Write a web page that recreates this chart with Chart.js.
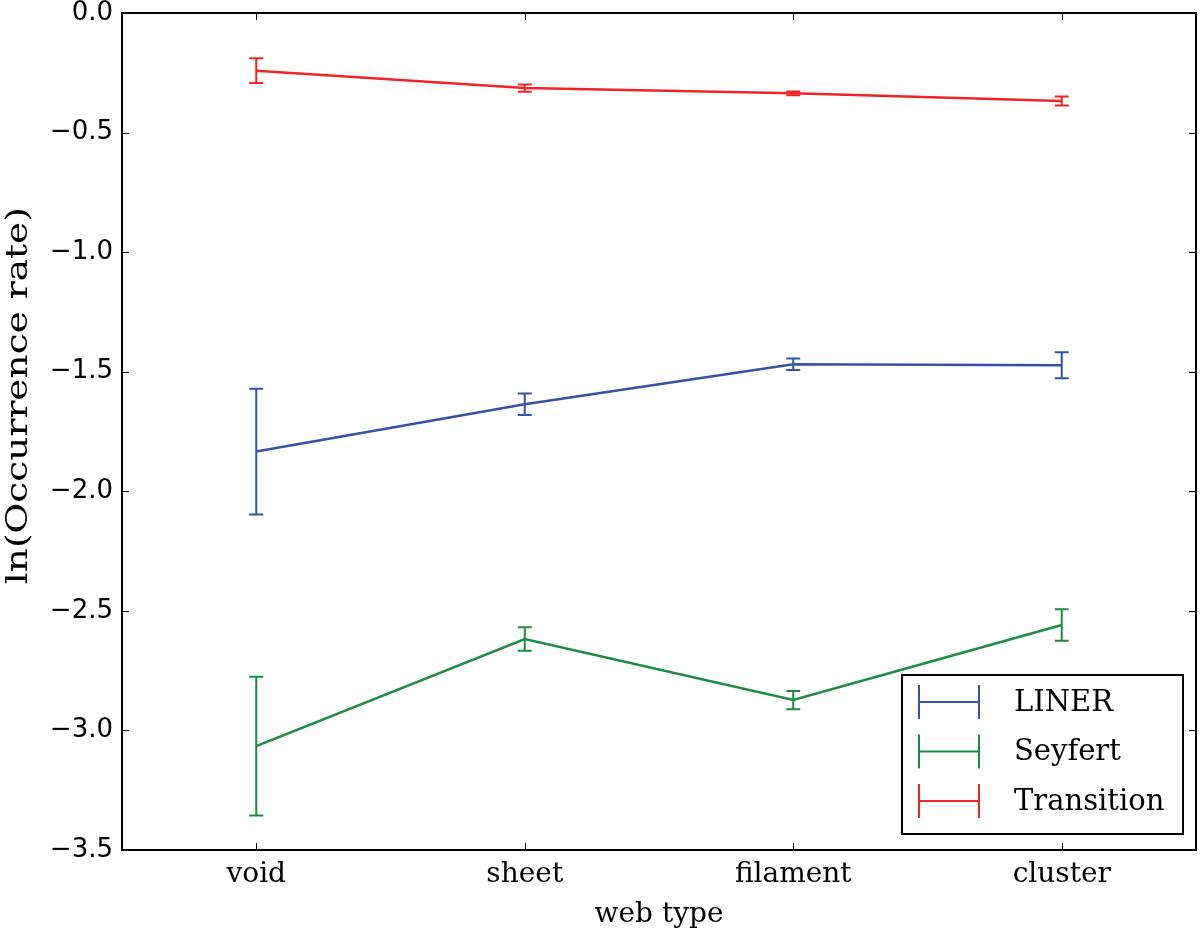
<!DOCTYPE html>
<html>
<head>
<meta charset="utf-8">
<script src="https://cdn.jsdelivr.net/npm/chart.js@4.4.1/dist/chart.umd.min.js"></script>
<style>
  html, body { margin: 0; padding: 0; background: #fff; }
  #wrap { width: 1200px; height: 932px; }
</style>
</head>
<body>
<div id="wrap"><canvas id="chart" width="1200" height="932"></canvas></div>
<script>
// categories on the x axis
const webTypes = ['void', 'sheet', 'filament', 'cluster'];

// ln(occurrence rate) per web type, with symmetric errors
const linerValues = [-1.834, -1.636, -1.469, -1.473];
const linerErrors = [0.263, 0.045, 0.024, 0.054];
const seyfertValues = [-3.066, -2.618, -2.873, -2.559];
const seyfertErrors = [0.290, 0.049, 0.038, 0.066];
const transitionValues = [-0.241, -0.314, -0.336, -0.368];
const transitionErrors = [0.052, 0.015, 0.008, 0.019];

const yTicks = [0, -0.5, -1, -1.5, -2, -2.5, -3, -3.5];
const yTitle = 'ln(Occurrence rate)';

const BLUE = '#3352a8';
const GREEN = '#1c8c44';
const RED = '#f02424';
const serif = '"DejaVu Serif", "Liberation Serif", serif';
const sans = '"DejaVu Sans", "Liberation Sans", sans-serif';

function toPoints(values) {
    return values.map(function (v, i) { return { x: i, y: v }; });
}

// error bars, drawn through the chart scales
const errorBars = {
    id: 'errorBars',
    afterDatasetsDraw(chart) {
        const ctx = chart.ctx;
        const xs = chart.scales.x, ys = chart.scales.y;
        chart.data.datasets.forEach(function (ds) {
            ctx.save();
            ctx.strokeStyle = ds.borderColor;
            ctx.lineWidth = 2;
            ds.data.forEach(function (p, i) {
                const e = ds.errors[i];
                const px = xs.getPixelForValue(p.x);
                const top = ys.getPixelForValue(p.y + e);
                const bot = ys.getPixelForValue(p.y - e);
                ctx.beginPath();
                ctx.moveTo(px, top); ctx.lineTo(px, bot);
                ctx.moveTo(px - 7, top); ctx.lineTo(px + 7, top);
                ctx.moveTo(px - 7, bot); ctx.lineTo(px + 7, bot);
                ctx.stroke();
            });
            ctx.restore();
        });
    }
};

// frame, inward ticks, y title and the legend, matplotlib style
const frame = {
    id: 'frame',
    afterDraw(chart) {
        const ctx = chart.ctx;
        const a = chart.chartArea;
        const xs = chart.scales.x, ys = chart.scales.y;
        ctx.save();
        ctx.strokeStyle = '#000';
        ctx.lineWidth = 1;
        ctx.beginPath();
        webTypes.forEach(function (_, i) {
            const px = Math.round(xs.getPixelForValue(i)) + 0.5;
            ctx.moveTo(px, a.bottom); ctx.lineTo(px, a.bottom - 7);
            ctx.moveTo(px, a.top); ctx.lineTo(px, a.top + 7);
        });
        yTicks.forEach(function (v) {
            const py = Math.round(ys.getPixelForValue(v)) + 0.5;
            ctx.moveTo(a.left, py); ctx.lineTo(a.left + 7, py);
            ctx.moveTo(a.right, py); ctx.lineTo(a.right - 7, py);
        });
        ctx.stroke();
        ctx.lineWidth = 2;
        ctx.strokeRect(a.left, a.top, a.right - a.left, a.bottom - a.top);

        // y title, stretched along its length like the original
        ctx.save();
        ctx.translate(19, ys.getPixelForValue(-1.6));
        ctx.rotate(-Math.PI / 2);
        ctx.font = '30px ' + serif;
        const w = ctx.measureText(yTitle).width;
        ctx.scale(377 / w, 1);
        ctx.fillStyle = '#000';
        ctx.textAlign = 'center';
        ctx.textBaseline = 'middle';
        ctx.fillText(yTitle, 0, 0);
        ctx.restore();

        // legend box in the lower right corner
        const bx = a.right - 294, by = a.bottom - 175, bw = 281, bh = 159;
        ctx.fillStyle = '#fff';
        ctx.fillRect(bx, by, bw, bh);
        ctx.strokeRect(bx, by, bw, bh);
        chart.data.datasets.forEach(function (ds, k) {
            const cy = by + 27 + k * 49.5;
            const x0 = bx + 17, x1 = bx + 77;
            ctx.strokeStyle = ds.borderColor;
            ctx.lineWidth = 2;
            ctx.beginPath();
            ctx.moveTo(x0, cy); ctx.lineTo(x1, cy);
            ctx.moveTo(x0, cy - 17); ctx.lineTo(x0, cy + 17);
            ctx.moveTo(x1, cy - 17); ctx.lineTo(x1, cy + 17);
            ctx.stroke();
            ctx.fillStyle = '#000';
            ctx.font = '29px ' + serif;
            ctx.textBaseline = 'middle';
            ctx.textAlign = 'left';
            ctx.fillText(ds.label, bx + 112, cy + 1);
        });
        ctx.restore();
    }
};

new Chart(document.getElementById('chart').getContext('2d'), {
    type: 'line',
    data: {
        datasets: [
            { label: 'LINER', data: toPoints(linerValues), errors: linerErrors, borderColor: BLUE },
            { label: 'Seyfert', data: toPoints(seyfertValues), errors: seyfertErrors, borderColor: GREEN },
            { label: 'Transition', data: toPoints(transitionValues), errors: transitionErrors, borderColor: RED }
        ].map(function (d) {
            return Object.assign(d, { borderWidth: 2.5, pointRadius: 0, fill: false, tension: 0 });
        })
    },
    options: {
        responsive: false,
        animation: false,
        layout: { padding: { top: 13, right: 4, left: 0, bottom: 0 } },
        scales: {
            x: {
                type: 'linear',
                min: -0.5,
                max: 3.5,
                grid: { display: false, drawTicks: false },
                border: { display: false },
                afterBuildTicks: function (scale) {
                    scale.ticks = webTypes.map(function (_, i) { return { value: i }; });
                },
                afterFit: function (scale) { scale.height = 82; },
                ticks: {
                    color: '#000',
                    padding: 8,
                    maxRotation: 0,
                    font: { family: serif, size: 28 },
                    callback: function (v) { return webTypes[v]; }
                },
                title: {
                    display: true,
                    text: 'web type',
                    color: '#000',
                    font: { family: serif, size: 28 },
                    padding: { top: 0, bottom: 0 }
                }
            },
            y: {
                type: 'linear',
                min: -3.5,
                max: 0,
                grid: { display: false, drawTicks: false },
                border: { display: false },
                afterBuildTicks: function (scale) {
                    scale.ticks = yTicks.map(function (v) { return { value: v }; });
                },
                afterFit: function (scale) {
                    scale.width = 122;
                    scale.paddingTop = 0;
                    scale.paddingBottom = 0;
                },
                ticks: {
                    color: '#000',
                    padding: 9,
                    font: { family: sans, size: 26, lineHeight: 0.4 },
                    callback: function (v) { return v.toFixed(1).replace('-', '\u2212'); }
                },
                title: { display: false }
            }
        },
        plugins: {
            legend: { display: false },
            tooltip: { enabled: false }
        }
    },
    plugins: [errorBars, frame]
});
</script>
</body>
</html>
